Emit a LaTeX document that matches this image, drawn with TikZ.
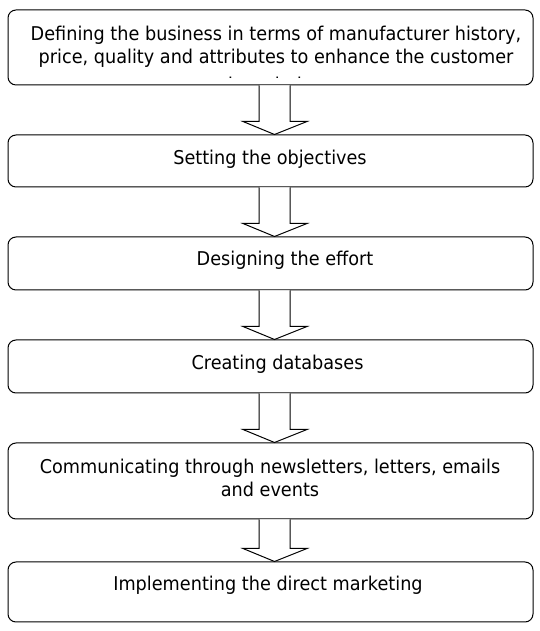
\documentclass[tikz,border=0pt]{standalone}
\usepackage{fontspec}
\setmainfont{DejaVu Sans}[FakeStretch=0.93]
\usetikzlibrary{calc}

\begin{document}
\begin{tikzpicture}[x=1pt,y=1pt,line width=1pt,
    stepbox/.style={draw, rounded corners=8pt, minimum width=525pt, inner sep=0pt},
    steptext/.style={anchor=base, align=center, inner sep=0pt, font=\fontsize{19}{23}\selectfont},
    blockarrow/.style={draw, fill=white, line join=miter}]

            \useasboundingbox (0,0) rectangle (540,631);

            \node[stepbox, minimum height=75pt] (define) at (270.5,583.5) {};
            \node[stepbox, minimum height=52pt] (objectives) at (270.5,470) {};
            \node[stepbox, minimum height=53pt] (design) at (270.5,367.5) {};
            \node[stepbox, minimum height=53pt] (databases) at (270.5,264.5) {};
            \node[stepbox, minimum height=76pt] (communicate) at (270.5,150) {};
            \node[stepbox, minimum height=60pt] (implement) at (270.5,39) {};

            % block arrows between the steps
            \foreach \a/\b in {define/objectives, objectives/design, design/databases,
                               databases/communicate, communicate/implement}
              \draw[blockarrow] ($(\a.south)+(-11.5,0)$) -- ($(\b.north)+(-11.5,13)$)
                  -- ++(-16,0) -- ($(\b.north)+(4,0)$) -- ($(\b.north)+(36.5,13)$)
                  -- ++(-17,0) -- ($(\a.south)+(19.5,0)$);

            \begin{scope}
              \clip (define.north west) rectangle ($(define.south east)+(0,8)$);
              \node[steptext] (defineText) at (276,539) {Defining the business in terms of manufacturer history,\\
                  price, quality and attributes to enhance the customer\\[5pt] knowledge};
            \end{scope}
            \node[steptext] (objectivesText) at (270,466) {Setting the objectives};
            \node[steptext] (designText) at (285,365) {Designing the effort};
            \node[steptext] (databasesText) at (277.5,261) {Creating databases};
            \node[steptext] (communicateText) at (270,134) {Communicating through newsletters, letters, emails\\ and events};
            \node[steptext] (implementText) at (268,40) {Implementing the direct marketing};
        \end{tikzpicture}
\end{document}
